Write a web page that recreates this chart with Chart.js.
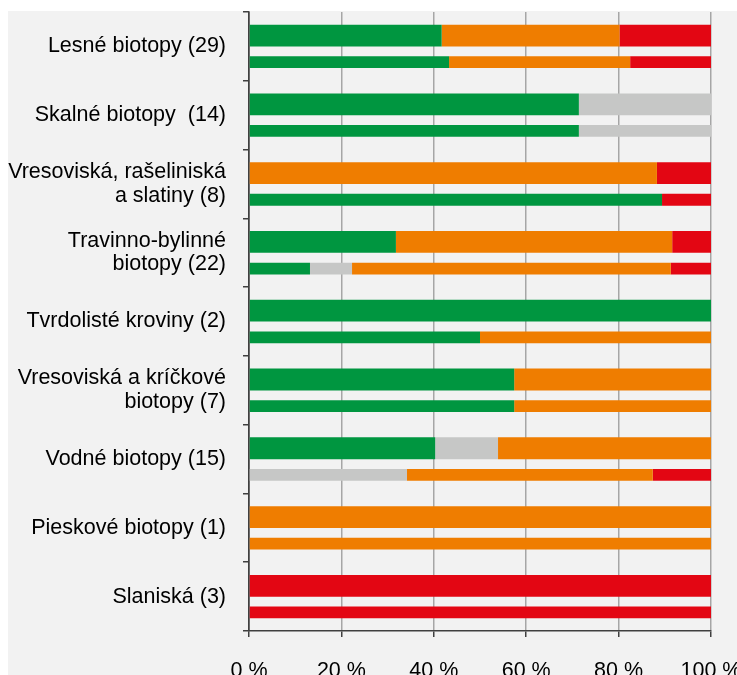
<!DOCTYPE html>
<html lang="sk">
<head>
<meta charset="utf-8">
<title>Biotopy</title>
<script src="https://cdn.jsdelivr.net/npm/chart.js@4/dist/chart.umd.min.js"></script>
<style>
  html, body { margin: 0; padding: 0; background: #ffffff; overflow: hidden; }
  #panel { position: absolute; left: 8px; top: 11px; width: 729px; height: 669px; background: #f2f2f2; }
</style>
</head>
<body>
<div id="panel"><canvas id="graf" width="729" height="669"></canvas></div>
<script>
// Skupiny biotopov (počet biotopov v zátvorke)
const kategorie = [
  'Lesné biotopy (29)',
  'Skalné biotopy  (14)',
  ['Vresoviská, rašeliniská', 'a slatiny (8)'],
  ['Travinno-bylinné', 'biotopy (22)'],
  'Tvrdolisté kroviny (2)',
  ['Vresoviská a kríčkové', 'biotopy (7)'],
  'Vodné biotopy (15)',
  'Pieskové biotopy (1)',
  'Slaniská (3)'
];

// Horný (hrubší) pruh, %
const horneZelena   = [41.7, 71.4, 0,    31.8, 100, 57.4, 40.3, 0,   0];
const horneSiva     = [0,    28.6, 0,    0,    0,   0,    13.6, 0,   0];
const horneOranzova = [38.5, 0,    88.3, 59.8, 0,   42.6, 46.1, 100, 0];
const horneCervena  = [19.8, 0,    11.7, 8.4,  0,   0,    0,    0,   100];

// Dolný (tenší) pruh, %
const dolneZelena   = [43.3, 71.4, 89.4, 13.2, 50, 57.4, 0,    0,   0];
const dolneSiva     = [0,    28.6, 0,    9.1,  0,  0,    34.2, 0,   0];
const dolneOranzova = [39.2, 0,    0,    69.0, 50, 42.6, 53.2, 100, 0];
const dolneCervena  = [17.5, 0,    10.6, 8.7,  0,  0,    12.6, 0,   100];

const xTicky = [0, 20, 40, 60, 80, 100];

const farby = {
  zelena: '#009640',
  siva: '#c6c7c6',
  oranzova: '#ef7d00',
  cervena: '#e30613'
};

function horny(label, data, farba) {
  return { label, data, backgroundColor: farba, stack: 'horne',
           categoryPercentage: 0.628, barPercentage: 1.01, borderWidth: 0 };
}
function dolny(label, data, farba) {
  return { label, data, backgroundColor: farba, stack: 'dolne',
           categoryPercentage: 0.919, barPercentage: 0.373, borderWidth: 0 };
}

const font = { family: '"Liberation Sans", Arial, sans-serif', size: 21.5, lineHeight: 1.1 };

new Chart(document.getElementById('graf'), {
  type: 'bar',
  data: {
    labels: kategorie,
    datasets: [
      horny('priaznivý', horneZelena, farby.zelena),
      horny('neznámy', horneSiva, farby.siva),
      horny('nepriaznivý - nevyhovujúci', horneOranzova, farby.oranzova),
      horny('nepriaznivý - zlý', horneCervena, farby.cervena),
      dolny('priaznivý', dolneZelena, farby.zelena),
      dolny('neznámy', dolneSiva, farby.siva),
      dolny('nepriaznivý - nevyhovujúci', dolneOranzova, farby.oranzova),
      dolny('nepriaznivý - zlý', dolneCervena, farby.cervena)
    ]
  },
  options: {
    indexAxis: 'y',
    responsive: false,
    animation: false,
    layout: { padding: { top: 1, right: 26, left: 0, bottom: 0 } },
    plugins: {
      legend: { display: false },
      tooltip: { enabled: false }
    },
    scales: {
      x: {
        stacked: true,
        min: 0,
        max: 100,
        afterBuildTicks: function(scale) {
          scale.ticks = xTicky.map(v => ({ value: v }));
        },
        afterFit: function(scale) {
          scale.paddingLeft = 0;
          scale.paddingRight = 0;
          scale.height = 49;
        },
        ticks: {
          color: '#000000',
          font: { family: font.family, size: 21.5, lineHeight: 1.2 },
          padding: 21,
          maxRotation: 0,
          callback: v => v + ' %'
        },
        grid: {
          color: ctx => ctx.index === 0 ? '#404040' : '#a6a6a6',
          lineWidth: 1.5,
          tickColor: '#404040',
          tickLength: 6
        },
        border: { color: '#404040', width: 1.5 }
      },
      y: {
        stacked: true,
        afterFit: function(scale) {
          scale.width = 241;
          scale.paddingTop = 0;
          scale.paddingBottom = 0;
        },
        ticks: {
          color: '#000000',
          font: font,
          padding: 17
        },
        grid: {
          offset: true,
          drawOnChartArea: false,
          color: '#404040',
          lineWidth: 1.5,
          tickLength: 6
        },
        border: { color: '#404040', width: 1.5 }
      }
    }
  }
});
</script>
</body>
</html>
